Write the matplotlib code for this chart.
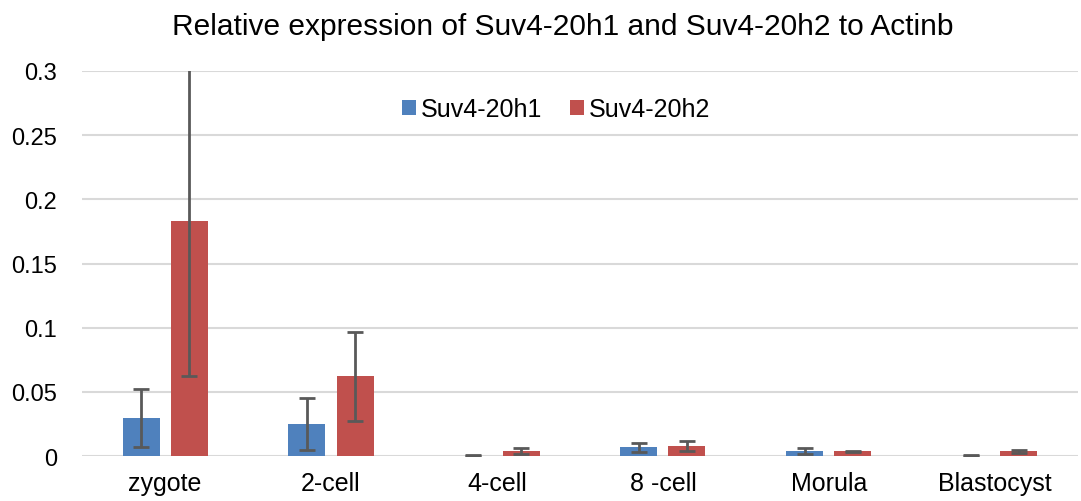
import numpy as np
import matplotlib.pyplot as plt

plt.rcParams['font.family'] = ['Liberation Sans', 'DejaVu Sans']

# data
stages = ['zygote', '2-cell', '4-cell', '8 -cell', 'Morula', 'Blastocyst']
h1 = [0.0294, 0.0247, 0.0003, 0.0068, 0.0037, 0.0003]
h1_err = [0.0225, 0.0202, 0.0003, 0.0036, 0.0023, 0.0002]
h2 = [0.183, 0.0621, 0.0037, 0.0076, 0.0037, 0.0037]
h2_err = [0.121, 0.0347, 0.0023, 0.0039, 0.0006, 0.0010]

fig = plt.figure(figsize=(10.81, 5.02), dpi=100)
ax = fig.add_axes([0.076, 0.0896, 0.921, 0.767])

x = np.arange(len(stages))
w = 0.223
off = 0.145
ebar = dict(ecolor='#595959', elinewidth=2, capsize=6, capthick=2)

ax.bar(x - off, h1, w, yerr=h1_err, color='#4F81BD', label='Suv4-20h1',
       error_kw=ebar, zorder=3)
ax.bar(x + off, h2, w, yerr=h2_err, color='#C0504D', label='Suv4-20h2',
       error_kw=ebar, zorder=3)

ax.set_ylim(0, 0.3)
ax.set_xlim(-0.5, len(stages) - 0.5)
ax.set_yticks([0, 0.05, 0.1, 0.15, 0.2, 0.25, 0.3])
ax.set_yticklabels(['0', '0.05', '0.1', '0.15', '0.2', '0.25', '0.3'])
ax.set_xticks(x)
ax.set_xticklabels(stages)
ax.tick_params(axis='both', length=0, colors='#000000')
ax.tick_params(axis='y', pad=18, labelsize=17)
ax.tick_params(axis='x', pad=11, labelsize=18)
ax.yaxis.grid(True, color='#d9d9d9', linewidth=1.5, zorder=0)
ax.set_axisbelow(True)
for s in ax.spines.values():
    s.set_visible(False)

fig.suptitle('Relative expression of Suv4-20h1 and Suv4-20h2 to Actinb',
             fontsize=21.5, x=0.521, y=0.975)
ax.legend(loc='center', bbox_to_anchor=(0.476, 0.90), ncol=2, frameon=False,
          fontsize=18, handlelength=0.55, handleheight=0.55, handletextpad=0.2,
          columnspacing=1.1)

fig.savefig('out.png', dpi=100)
